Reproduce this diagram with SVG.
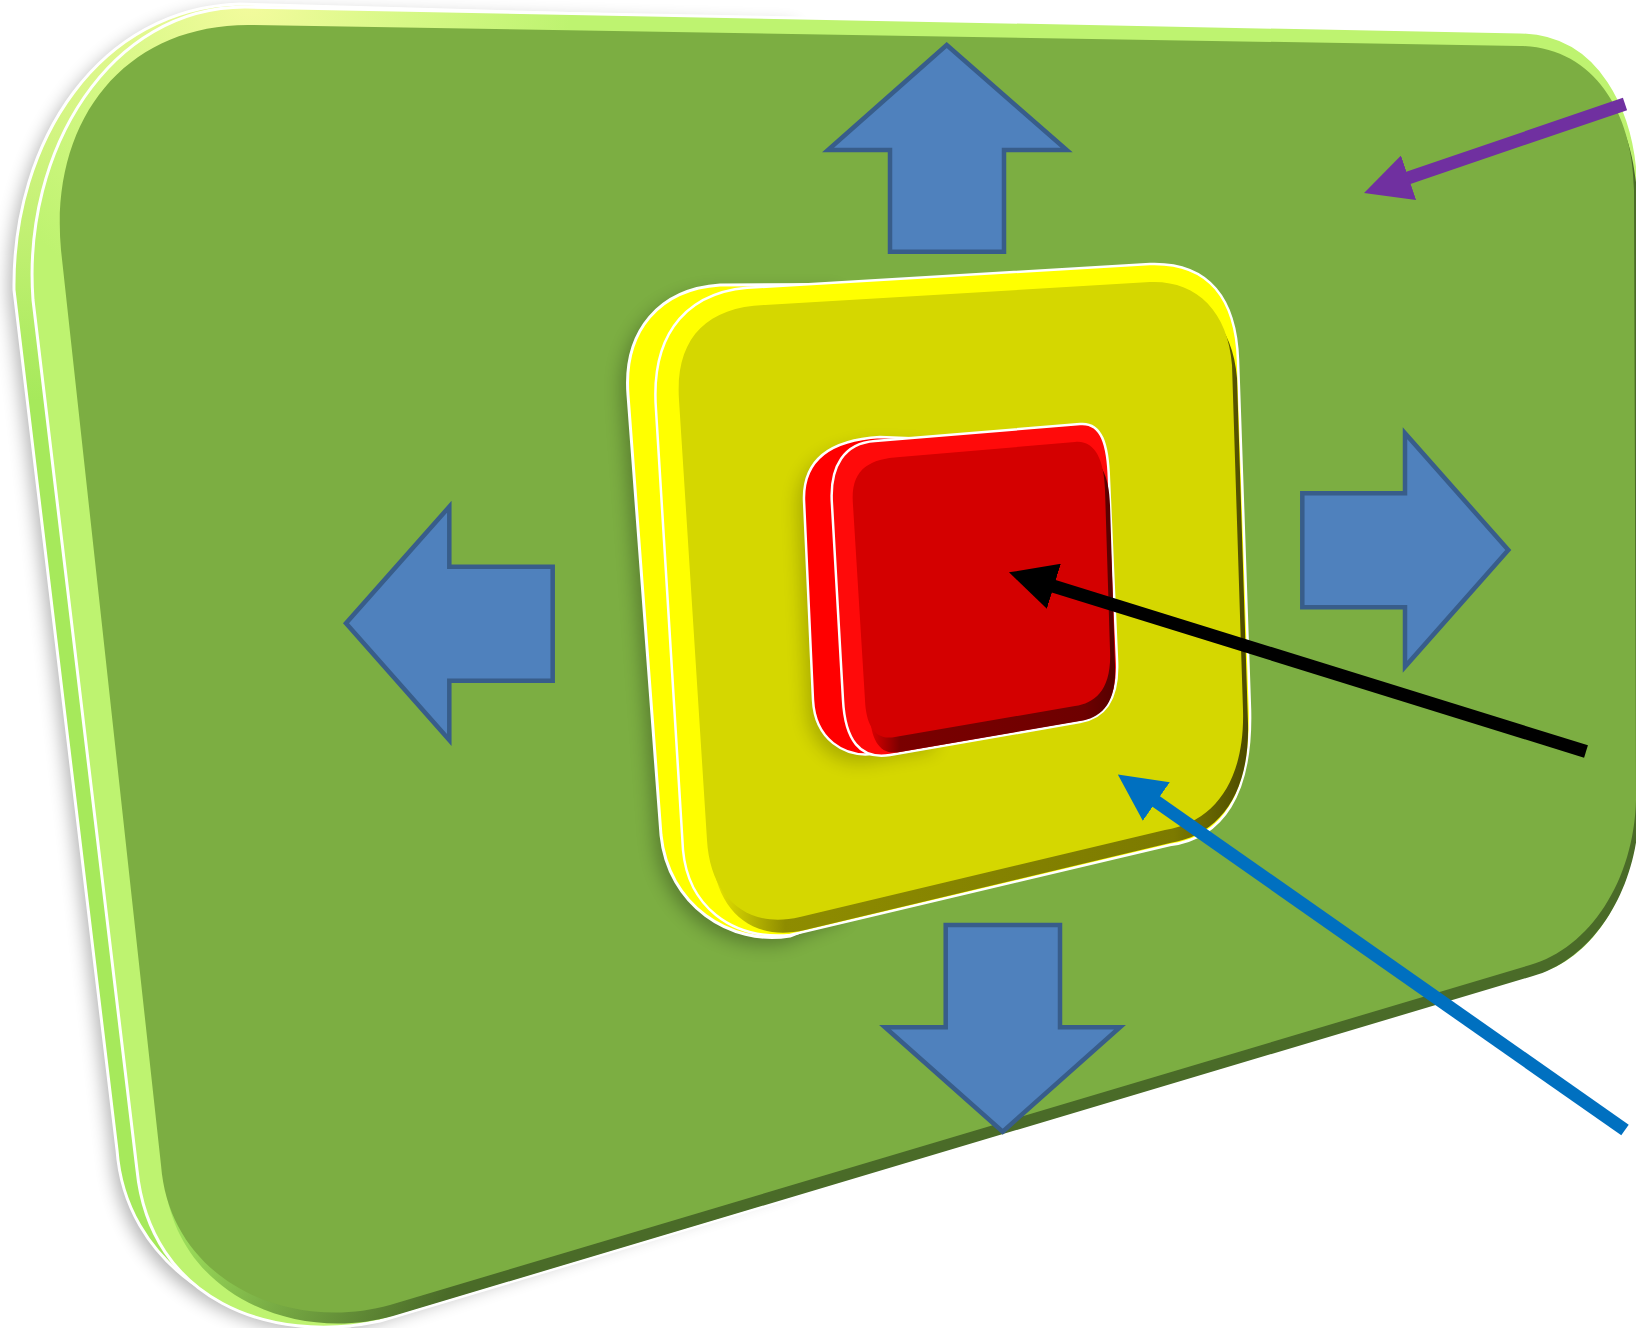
<svg xmlns="http://www.w3.org/2000/svg" xmlns:xlink="http://www.w3.org/1999/xlink" width="1636" height="1328" viewBox="0 0 1636 1328">
  <style>
    .rim { stroke: #ffffff; stroke-width: 3; stroke-linejoin: round; }
    .thin { stroke: #ffffff; stroke-width: 2.5; stroke-linejoin: round; }
    .shade { fill: #000000; }
    .block { fill: #4f81bd; stroke: #385d8a; stroke-width: 4.5; stroke-linejoin: miter; }
    .conn { fill: none; stroke-width: 13; stroke-linecap: butt; }
  </style>
  <defs>
    <!-- slab outlines: extrusion side, bevel rim, front face -->
    <path id="g-side" d="M240,4 L800,20 L800,1180 L350,1326 C230,1332 125,1262 117,1150 L14,290 C12,140 100,8 240,4 Z"/>
    <path id="g-rim" d="M33,300 C22,150 110,7 245,7 L1520,32 C1600,33 1637,110 1639,190 L1641,800 C1639,890 1595,962 1535,976 L380,1321 C270,1345 150,1300 137,1170 Z"/>
    <path id="g-face" d="M61,250 C49,120 125,24 250,25 L1520,46 C1592,47 1633,110 1634,190 L1636,800 C1634,880 1590,948 1530,965 L390,1305 C290,1333 170,1282 161,1165 Z"/>

    <path id="y-side" d="M720,285 L840,284.5 L850,292 L850,912 L790,936 C730,946 668,905 661,835 L628,395 C623,330 660,289 720,285 Z"/>
    <path id="y-rim" d="M656,410 C650,330 690,288 760,287 L1150,264 C1210,262 1236,300 1238,360 L1250,710 C1252,795 1222,838 1170,845 L790,935 C730,940 688,905 683,850 Z"/>
    <path id="y-face" d="M679,400 C675,340 705,307 765,305 L1150,282 C1195,280 1228,310 1232,365 L1243,710 C1245,780 1215,822 1165,830 L800,917 C745,930 710,895 707,840 Z"/>

    <path id="r-side" d="M880,437 L930,439 L940,447 L940,742 L872,754 C845,757 815,740 813,700 L804,500 C803,460 830,440 880,437 Z"/>
    <path id="r-rim" d="M832,505 C829,465 845,443 875,441 L1080,424 C1102,422 1108,445 1109,480 L1117,660 C1119,700 1105,718 1080,722 L890,755 C860,760 845,740 843,700 Z"/>
    <path id="r-face" d="M853,505 C850,470 868,459 900,457 L1075,442 C1095,440 1104,460 1105,490 L1110,650 C1112,690 1095,703 1075,706 L895,737 C875,741 866,725 865,700 Z"/>

    <radialGradient id="gRimFill" gradientUnits="userSpaceOnUse" cx="250" cy="0" r="320">
      <stop offset="0" stop-color="#f3fb9d"/>
      <stop offset="0.5" stop-color="#d6f886"/>
      <stop offset="1" stop-color="#bef370"/>
    </radialGradient>
    <linearGradient id="gSideFill" gradientUnits="userSpaceOnUse" x1="0" y1="0" x2="0" y2="400">
      <stop offset="0" stop-color="#e8fa94"/>
      <stop offset="1" stop-color="#a6e95b"/>
    </linearGradient>
    <linearGradient id="gDarkFill" gradientUnits="userSpaceOnUse" x1="170" y1="1200" x2="420" y2="1330">
      <stop offset="0" stop-color="#a2e65e"/>
      <stop offset="1" stop-color="#4a6b28"/>
    </linearGradient>
    <linearGradient id="yDarkFill" gradientUnits="userSpaceOnUse" x1="710" y1="0" x2="1250" y2="0">
      <stop offset="0" stop-color="#e6e400"/>
      <stop offset="0.13" stop-color="#8e8c00"/>
      <stop offset="0.85" stop-color="#7c7a00"/>
      <stop offset="1" stop-color="#484600"/>
    </linearGradient>
    <linearGradient id="rDarkFill" gradientUnits="userSpaceOnUse" x1="862" y1="0" x2="1117" y2="0">
      <stop offset="0" stop-color="#e80000"/>
      <stop offset="0.13" stop-color="#7a0000"/>
      <stop offset="0.85" stop-color="#6e0000"/>
      <stop offset="1" stop-color="#500000"/>
    </linearGradient>

    <filter id="blur" x="-20%" y="-20%" width="140%" height="140%">
      <feGaussianBlur stdDeviation="9"/>
    </filter>

    <marker id="tip-purple" markerUnits="userSpaceOnUse" markerWidth="47" markerHeight="47" viewBox="0 0 47 47" refX="1" refY="23.5" orient="auto">
      <path d="M0,0 L47,23.5 L0,47 Z" fill="#7030a0"/>
    </marker>
    <marker id="tip-black" markerUnits="userSpaceOnUse" markerWidth="47" markerHeight="47" viewBox="0 0 47 47" refX="1" refY="23.5" orient="auto">
      <path d="M0,0 L47,23.5 L0,47 Z" fill="#000000"/>
    </marker>
    <marker id="tip-blue" markerUnits="userSpaceOnUse" markerWidth="47" markerHeight="47" viewBox="0 0 47 47" refX="1" refY="23.5" orient="auto">
      <path d="M0,0 L47,23.5 L0,47 Z" fill="#0070c0"/>
    </marker>
  </defs>

  <rect width="1636" height="1328" fill="#ffffff"/>

  <!-- outer green slab -->
  <g id="slab-green">
    <use xlink:href="#g-side" class="shade" opacity="0.3" transform="translate(-5,6)" filter="url(#blur)"/>
    <use xlink:href="#g-side" class="rim" fill="url(#gSideFill)"/>
    <use xlink:href="#g-rim" class="rim" fill="url(#gRimFill)"/>
    <use xlink:href="#g-face" fill="url(#gDarkFill)" transform="translate(3,11)"/>
    <use xlink:href="#g-face" fill="#7cae42"/>
  </g>

  <!-- middle yellow slab -->
  <g id="slab-yellow">
    <use xlink:href="#y-side" class="shade" opacity="0.28" transform="translate(-6,7)" filter="url(#blur)"/>
    <use xlink:href="#y-side" class="rim" fill="#ffff00"/>
    <use xlink:href="#y-rim" class="thin" fill="#ffff00"/>
    <use xlink:href="#y-face" fill="url(#yDarkFill)" transform="translate(5,13)"/>
    <use xlink:href="#y-face" fill="#d5d700"/>
  </g>

  <!-- inner red slab -->
  <g id="slab-red">
    <use xlink:href="#r-side" class="shade" opacity="0.2" transform="translate(-6,8)" filter="url(#blur)"/>
    <use xlink:href="#r-side" class="thin" fill="#ff0000"/>
    <use xlink:href="#r-rim" class="thin" fill="#ff0a0a"/>
    <use xlink:href="#r-face" fill="url(#rDarkFill)" transform="translate(5,15)"/>
    <use xlink:href="#r-face" fill="#d40000"/>
  </g>

  <!-- outward block arrows -->
  <g id="arrow-up">
    <polygon class="block" points="946.7,45 1066.7,150 1004,150 1004,251.7 890,251.7 890,150 828,150"/>
  </g>
  <g id="arrow-left">
    <polygon class="block" points="346,623.3 449.3,506.7 449.3,566.7 552.7,566.7 552.7,680.7 449.3,680.7 449.3,740"/>
  </g>
  <g id="arrow-right">
    <polygon class="block" points="1508.3,550 1405,433.3 1405,493.3 1302.3,493.3 1302.3,607.3 1405,607.3 1405,666.7"/>
  </g>
  <g id="arrow-down">
    <polygon class="block" points="1002.7,1131.7 1120,1027.3 1060,1027.3 1060,925 945.7,925 945.7,1027.3 885,1027.3"/>
  </g>

  <!-- pointer lines -->
  <g id="connectors">
    <line class="conn" x1="1625" y1="104" x2="1407.6" y2="178.1" stroke="#7030a0" marker-end="url(#tip-purple)"/>
    <line class="conn" x1="1586" y1="751.5" x2="1052.9" y2="586" stroke="#000000" marker-end="url(#tip-black)"/>
    <line class="conn" x1="1625" y1="1130" x2="1155.5" y2="801" stroke="#0070c0" marker-end="url(#tip-blue)"/>
  </g>
</svg>
